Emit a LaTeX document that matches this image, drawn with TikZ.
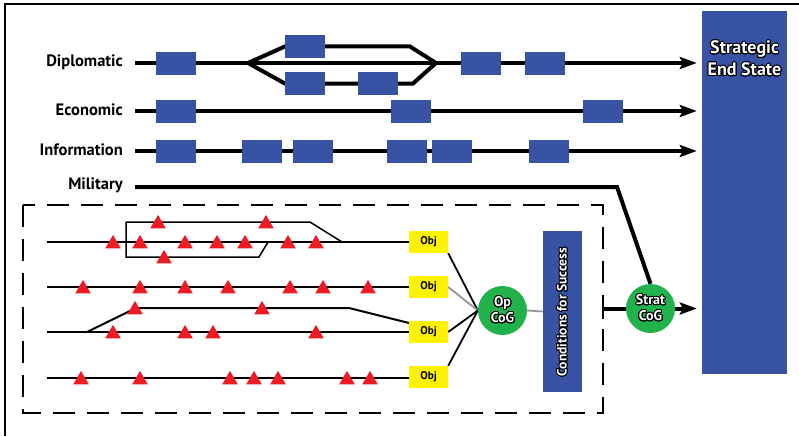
\documentclass[tikz,border=0pt]{standalone}
\usepackage{fontspec}
\setmainfont{PT Sans}
\usepackage[copies]{contour}
\usetikzlibrary{arrows.meta,shapes.geometric}
\definecolor{bx}{RGB}{57,83,164}
\definecolor{gr}{RGB}{34,178,76}
\definecolor{yl}{RGB}{255,242,0}
\definecolor{rd}{RGB}{237,28,36}
\definecolor{gl}{RGB}{150,150,150}
\contourlength{1pt}
\newcommand{\outl}[1]{\contour{black}{\textcolor{white}{#1}}}
\pgfdeclarelayer{bg}
\pgfsetlayers{bg,main}
\begin{document}
\begin{tikzpicture}[x=1pt,y=-1pt,font=\bfseries,
  bluebox/.style={fill=bx,minimum width=40pt,minimum height=23pt,inner sep=0pt},
  objbox/.style={fill=yl,minimum width=39pt,minimum height=22pt,inner sep=0pt,font=\bfseries\fontsize{11.2}{12}\selectfont},
  cog/.style={circle,fill=gr,minimum size=49pt,inner sep=0pt,align=center,font=\bfseries\fontsize{14}{16}\selectfont},
  lab/.style={anchor=east,inner sep=0pt,font=\bfseries\fontsize{16.5}{18}\selectfont},
  tri/.style={regular polygon,regular polygon sides=3,minimum size=18pt,inner sep=0pt,fill=rd},
  mainline/.style={line width=4pt,line join=miter},
  arr/.style={-{Stealth[length=17pt,width=12pt,inset=3pt]},shorten >=5pt},
  opline/.style={line width=2pt,line join=miter},
  loopline/.style={line width=1.5pt,line join=miter},
  conn/.style={line width=1.8pt},
  gconn/.style={line width=1.8pt,draw=gl},
  dbox/.style={line width=2.2pt,dash pattern=on 22pt off 12pt}]
\useasboundingbox (0,0) rectangle (799,436);
\draw[line width=1.2pt] (5,436) -- (5,4) -- (799,4);

% Strategic end state
\node[fill=bx,minimum width=85pt,minimum height=363pt,inner sep=0pt] (ses) at (744.5,192.5) {};
\node[align=center,font=\bfseries\fontsize{18}{22}\selectfont] (sestext) at (744.5,59) {\outl{Strategic}\\\outl{End State}};

% labels
\node[lab] (ldip) at (123,62) {Diplomatic};
\node[lab] (leco) at (123,110) {Economic};
\node[lab] (linf) at (123,150) {Information};
\node[lab] (lmil) at (123,185) {Military};

% coordinates
\coordinate (dS) at (135,63);
\coordinate (eS) at (135,111);
\coordinate (iS) at (135,151);
\coordinate (mS) at (135,187);
\coordinate (fork) at (248,63);
\coordinate (join) at (436,63);
\coordinate (ucor) at (410,46.5);
\coordinate (lcor) at (413,83.5);
\coordinate (mcor) at (617,187);

% blue boxes
\node[bluebox] (d1) at (176,63.5) {};
\node[bluebox] (du1) at (305,46.5) {};
\node[bluebox] (dl1) at (305,83.5) {};
\node[bluebox] (dl2) at (378,83.5) {};
\node[bluebox] (d2) at (481,63.5) {};
\node[bluebox] (d3) at (545,63.5) {};
\node[bluebox] (e1) at (176,111) {};
\node[bluebox] (e2) at (411,111) {};
\node[bluebox] (e3) at (603,111) {};
\node[bluebox] (i1) at (176,151.5) {};
\node[bluebox] (i2) at (262,151.5) {};
\node[bluebox] (i3) at (313,151.5) {};
\node[bluebox] (i4) at (407,151.5) {};
\node[bluebox] (i5) at (452,151.5) {};
\node[bluebox] (i6) at (549,151.5) {};

% cogs and conditions
\node[cog] (op) at (502.5,310.5) {\outl{Op}\\\outl{CoG}};
\node[cog] (sc) at (650.5,308.5) {\outl{Strat}\\\outl{CoG}};
\node[fill=bx,minimum width=39pt,minimum height=161pt,inner sep=0pt] (cfs) at (562.5,311.5) {};
\node[rotate=90,font=\bfseries\fontsize{13.5}{15}\selectfont] (cfstext) at (562.5,312) {\outl{Conditions for Success}};

% objectives
\node[objbox] (o1) at (428.5,242) {Obj};
\node[objbox] (o2) at (428.5,287) {Obj};
\node[objbox] (o3) at (428.5,332) {Obj};
\node[objbox] (o4) at (428.5,377) {Obj};

% triangles
\foreach \yy/\xs in {242/{113,140,185,217,245,288,316},222/{158,266},257/{164},287/{83,140,185,228,290,323,368},308/{135,262},332/{113,185,213,316},378/{81,140,230,254,278,347,370}}{
  \foreach \xx in \xs {\node[tri] (t-\yy-\xx) at (\xx,{\yy+1.9}) {};}
}

\begin{pgfonlayer}{bg}
  \draw[mainline,arr] (dS) -- (dS -| ses.west);
  \draw[mainline] (fork) -- (du1.west) -- (ucor) -- (join);
  \draw[mainline] (fork) -- (dl1.west) -- (lcor) -- (join);
  \draw[mainline,arr] (eS) -- (eS -| ses.west);
  \draw[mainline,arr] (iS) -- (iS -| ses.west);
  \draw[mainline] (mS) -- (mcor) -- (sc.north);
  % operational lines
  \coordinate (l1S) at (47,242);
  \coordinate (l2S) at (47,287);
  \coordinate (l3S) at (47,332);
  \coordinate (l4S) at (47,378);
  \draw[opline] (l1S) -- (o1.west);
  \draw[opline] (l2S) -- (o2.west);
  \draw[opline] (l3S) -- (o3.west);
  \draw[opline] (l4S) -- (o4.west |- l4S);
  \draw[loopline] (342,242) -- (310,222) -- (126,222) -- (126,257) -- (259,257) -- (268,242);
  \coordinate (b3s) at (87,332);
  \coordinate (b3e) at (409,323);
  \draw[opline] (b3s) -- (136,308) -- (349,308) -- (b3e);
  \draw[conn] (o1.south east) -- (op.west);
  \draw[gconn] (o2.east) -- (op.west);
  \draw[conn] (o3.east) -- (op.west);
  \draw[conn] (o4.north east) -- (op.west);
  \draw[gconn] (op.east) -- (cfs.west);
  \draw[dbox] (23,205) rectangle (603,413);
  \coordinate (barc) at (603,308.5);
  \draw[line width=2.4pt] (603,297) -- (603,319);
  \draw[mainline] (barc) -- (sc.west);
  \draw[mainline,arr] (sc.east) -- (sc.east -| ses.west);
\end{pgfonlayer}
\end{tikzpicture}
\end{document}
